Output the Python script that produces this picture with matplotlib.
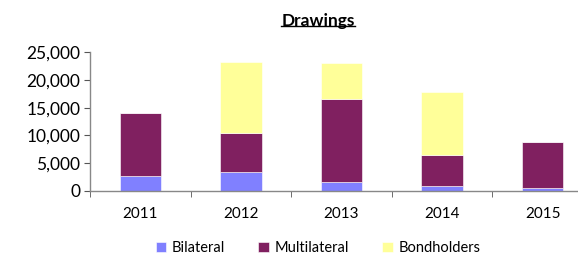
import numpy as np
import matplotlib.pyplot as plt
from matplotlib.ticker import FuncFormatter

years = ['2011', '2012', '2013', '2014', '2015']
bilateral = [2650, 3320, 1630, 900, 430]
multilateral = [11320, 7040, 14990, 5600, 8310]
bondholders = [0, 12930, 6500, 11330, 0]

c_bil = '#8080FF'
c_mul = '#802060'
c_bon = '#FFFF99'

plt.rcParams['font.family'] = ['Lato', 'DejaVu Sans']

fig = plt.figure(figsize=(5.78, 2.56), dpi=100)
ax = fig.add_axes([90 / 578, 1 - 190.7 / 256, 503 / 578, (190.7 - 52.3) / 256])

x = np.arange(len(years))
w = 0.41
bil = np.array(bilateral)
mul = np.array(multilateral)
bon = np.array(bondholders)
ax.bar(x, bil, w, color=c_bil, edgecolor='white', linewidth=0.4, label='Bilateral')
ax.bar(x, mul, w, bottom=bil, color=c_mul, edgecolor='white', linewidth=0.4, label='Multilateral')
ax.bar(x, bon, w, bottom=bil + mul, color=c_bon, edgecolor='white', linewidth=0.4, label='Bondholders')

ax.set_xlim(-0.5, len(years) - 0.5)
ax.set_ylim(0, 25000)
ax.set_yticks(np.arange(0, 25001, 5000))
ax.yaxis.set_major_formatter(FuncFormatter(lambda v, p: f'{int(v):,}'))
ax.set_xticks(x)
ax.set_xticklabels(years)
ax.set_xticks(np.arange(-0.5, len(years), 1), minor=True)
ax.tick_params(axis='x', which='major', length=0, pad=12, labelsize=11)
ax.tick_params(axis='x', which='minor', length=4, color='#555555', direction='out')
ax.tick_params(axis='y', length=4, color='#555555', labelsize=12.5, pad=3)

for s in ['top', 'right']:
    ax.spines[s].set_visible(False)
for s in ['left', 'bottom']:
    ax.spines[s].set_color('#888888')
    ax.spines[s].set_linewidth(1.0)

t = fig.text(318 / 578, 1 - 21 / 256, 'Drawings', ha='center', va='center',
             fontsize=12.5, fontweight='bold')
# underline under the title
fig.canvas.draw()
bb = t.get_window_extent()
inv = fig.transFigure.inverted()
(x0, y0), (x1, y1) = inv.transform([(bb.x0, bb.y0), (bb.x1, bb.y1)])
fig.add_artist(plt.Line2D([x0, x1], [y0 + 0.01, y0 + 0.01], color='black', linewidth=1.0,
                          transform=fig.transFigure))

fig.legend(loc='center', bbox_to_anchor=(318 / 578, 1 - 248 / 256), ncol=3, frameon=False,
           fontsize=10.5, handlelength=0.7, handleheight=0.7, columnspacing=2.3, handletextpad=0.4)

fig.savefig('out.png', dpi=100)
